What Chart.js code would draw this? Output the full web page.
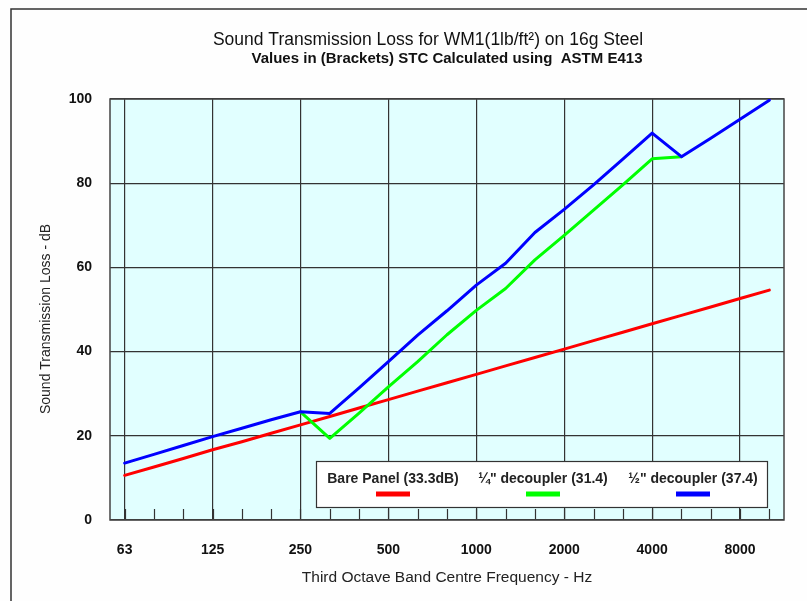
<!DOCTYPE html>
<html><head><meta charset="utf-8">
<script src="https://cdn.jsdelivr.net/npm/chart.js@4/dist/chart.umd.min.js"></script>
<style>html,body{margin:0;padding:0;background:#fefefe;} #wrap{width:807px;height:601px;position:relative}</style>
</head><body><div id="wrap"><canvas id="c" width="807" height="601"></canvas></div>
<script>
const bandCentres = ['63','80','100','125','160','200','250','315','400','500','630','800','1000','1250','1600','2000','2500','3150','4000','5000','6300','8000','10000'];
const octaveTickLabels = ['63','125','250','500','1000','2000','4000','8000'];
const barePanel = [10.6,12.6,14.6,16.7,18.6,20.6,22.6,24.6,26.6,28.6,30.6,32.6,34.6,36.6,38.6,40.6,42.6,44.6,46.6,48.6,50.6,52.6,54.6];
const quarterDecoupler = [null,null,null,null,null,null,25.7,19.4,25.4,31.6,37.6,44.0,49.8,55.0,61.8,67.6,73.6,79.6,85.8,86.3,null,null,null];
const halfDecoupler = [13.5,15.6,17.7,19.8,21.8,23.8,25.7,25.3,31.4,37.6,43.9,49.7,55.8,61.0,68.3,73.8,79.6,85.7,91.9,86.3,90.7,95.2,99.7];
const seriesLabels = ['Bare Panel (33.3dB)', '\u00BC" decoupler (31.4)', '\u00BD" decoupler (37.4)'];
const seriesColors = ['#ff0000', '#00ff00', '#0000ff'];
const yTickValues = [0,20,40,60,80,100];
const titleText = 'Sound Transmission Loss for WM1(1lb/ft\u00B2) on 16g Steel';
const subtitleText = 'Values in (Brackets) STC Calculated using  ASTM E413';
const xAxisTitle = 'Third Octave Band Centre Frequency - Hz';
const yAxisTitle = 'Sound Transmission Loss - dB';

const FONT = '"Liberation Sans", Arial, sans-serif';

const decorPlugin = {
  id: 'decor',
  beforeDraw(chart) {
    const {ctx, chartArea: a} = chart;
    ctx.save();
    ctx.fillStyle = '#fefefe';
    ctx.fillRect(0, 0, chart.width, chart.height);
    ctx.strokeStyle = '#333';
    ctx.lineWidth = 1.5;
    ctx.beginPath();
    ctx.moveTo(11, chart.height + 2);
    ctx.lineTo(11, 9);
    ctx.lineTo(chart.width + 2, 9);
    ctx.stroke();
    ctx.fillStyle = '#e1ffff';
    ctx.fillRect(a.left, a.top, a.right - a.left, a.bottom - a.top);
    ctx.restore();
  },
  beforeDatasetsDraw(chart) {
    const {ctx, chartArea: a} = chart;
    const xs = chart.scales.x;
    ctx.save();
    ctx.strokeStyle = '#333';
    ctx.lineWidth = 1.2;
    bandCentres.forEach((b, i) => {
      const px = Math.round(xs.getPixelForValue(i)) + 0.5;
      ctx.beginPath();
      ctx.moveTo(px, a.bottom);
      ctx.lineTo(px, a.bottom - 11);
      ctx.stroke();
    });
    ctx.strokeStyle = '#444';
    ctx.lineWidth = 1.5;
    ctx.strokeRect(a.left, a.top, a.right - a.left, a.bottom - a.top);
    ctx.restore();
  },
  afterDraw(chart) {
    const {ctx, chartArea: a} = chart;
    ctx.save();
    ctx.fillStyle = '#111';
    ctx.textAlign = 'center';
    ctx.textBaseline = 'middle';
    ctx.font = '17.5px ' + FONT;
    ctx.fillText(titleText, 428, 40);
    ctx.font = 'bold 15px ' + FONT;
    ctx.fillText(subtitleText, 447, 59);
    // y axis title
    ctx.save();
    ctx.translate(46, 319);
    ctx.rotate(-Math.PI / 2);
    ctx.fillStyle = '#222';
    ctx.font = '14px ' + FONT;
    ctx.fillText(yAxisTitle, 0, 0);
    ctx.restore();
    // legend
    const L = a.left + 206, T = 461, W = 451, H = 46;
    ctx.fillStyle = '#ffffff';
    ctx.fillRect(L, T, W, H);
    ctx.strokeStyle = '#333';
    ctx.lineWidth = 1.2;
    ctx.strokeRect(L + 0.5, T + 0.5, W, H);
    chart.data.datasets.forEach((ds, i) => {
      const cx = L + 77 + i * 150;
      ctx.fillStyle = '#222';
      ctx.font = 'bold 14px ' + FONT;
      ctx.fillText(ds.label, cx, T + 18);
      ctx.strokeStyle = ds.borderColor;
      ctx.lineWidth = 5;
      ctx.beginPath();
      ctx.moveTo(cx - 17, T + 33);
      ctx.lineTo(cx + 17, T + 33);
      ctx.stroke();
    });
    ctx.restore();
  }
};

new Chart(document.getElementById('c'), {
  type: 'line',
  data: {
    labels: bandCentres,
    datasets: [
      {label: seriesLabels[0], data: barePanel, borderColor: seriesColors[0], order: 3},
      {label: seriesLabels[1], data: quarterDecoupler, borderColor: seriesColors[1], order: 2},
      {label: seriesLabels[2], data: halfDecoupler, borderColor: seriesColors[2], order: 1}
    ]
  },
  options: {
    responsive: false,
    animation: false,
    devicePixelRatio: 1,
    layout: {padding: {left: 0, top: 99, right: 23, bottom: 0}},
    elements: {
      line: {borderWidth: 3, tension: 0, borderCapStyle: 'round', borderJoinStyle: 'round', fill: false},
      point: {radius: 0, hoverRadius: 0}
    },
    plugins: {legend: {display: false}, title: {display: false}, tooltip: {enabled: false}},
    scales: {
      x: {
        type: 'category',
        offset: true,
        afterFit(s) { s.height = 81; },
        grid: {
          offset: false,
          drawTicks: false,
          lineWidth: 1.2,
          color: c => octaveTickLabels.includes(bandCentres[c.index]) ? '#333' : 'rgba(0,0,0,0)'
        },
        border: {display: false},
        ticks: {
          autoSkip: false,
          maxRotation: 0,
          padding: 22,
          color: '#111',
          font: {family: FONT, size: 14, weight: 'bold'},
          callback: (v, i) => octaveTickLabels.includes(bandCentres[i]) ? bandCentres[i] : ''
        },
        title: {display: true, text: xAxisTitle, color: '#222', font: {family: FONT, size: 15.5}, padding: {top: 0, bottom: 14}}
      },
      y: {
        min: 0, max: 100,
        afterFit(s) { s.width = 110; },
        afterBuildTicks(s) { s.ticks = yTickValues.map(v => ({value: v})); },
        grid: {drawTicks: false, color: '#333', lineWidth: 1.2},
        border: {display: false},
        ticks: {padding: 18, color: '#111', font: {family: FONT, size: 14, weight: 'bold'}},
        title: {display: false, text: yAxisTitle}
      }
    }
  },
  plugins: [decorPlugin]
});
</script>
</body></html>
